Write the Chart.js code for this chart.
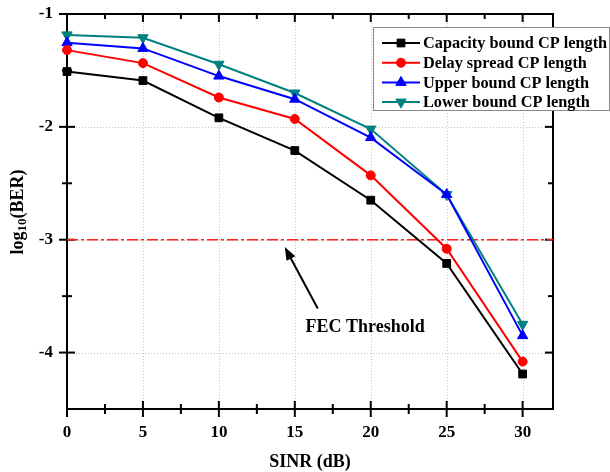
<!DOCTYPE html>
<html>
<head>
<meta charset="utf-8">
<script src="https://cdn.jsdelivr.net/npm/chart.js@4.4.1/dist/chart.umd.min.js"></script>
<style>
  html, body { margin: 0; padding: 0; background: #fff; }
  canvas { display: block; }
</style>
</head>
<body>
<canvas id="c" width="610" height="472"></canvas>
<script>
// SINR sweep (dB) and log10(BER) for each cyclic-prefix length choice
const sinr = [0, 5, 10, 15, 20, 25, 30];
const capacityBound = [-1.51, -1.59, -1.92, -2.21, -2.65, -3.21, -4.19];
const delaySpread   = [-1.32, -1.435, -1.74, -1.93, -2.43, -3.08, -4.08];
const upperBound    = [-1.255, -1.305, -1.55, -1.755, -2.095, -2.60, -3.85];
const lowerBound    = [-1.185, -1.21, -1.445, -1.70, -2.02, -2.60, -3.75];
const fecThreshold = -3;

const seriesNames = [
  'Capacity bound CP length',
  'Delay spread CP length',
  'Upper bound CP length',
  'Lower bound CP length'
];
const xTicks = [0, 5, 10, 15, 20, 25, 30];
const yTicks = [-4, -3, -2, -1];
const xMinor = [2.5, 7.5, 12.5, 17.5, 22.5, 27.5];
const yMinor = [-3.5, -2.5, -1.5];

const FONT = 'Liberation Serif, Times New Roman, serif';

const seriesStyle = [
  { color: '#000000', pointStyle: 'rect', radius: 5.5, rotation: 0 },
  { color: '#ff0000', pointStyle: 'circle', radius: 4.5, rotation: 0 },
  { color: '#0000ff', pointStyle: 'triangle', radius: 6, rotation: 0 },
  { color: '#008080', pointStyle: 'triangle', radius: 6, rotation: 180 }
];
const seriesValues = [capacityBound, delaySpread, upperBound, lowerBound];

const datasets = seriesValues.map((vals, i) => ({
  label: seriesNames[i],
  data: sinr.map((s, k) => ({ x: s, y: vals[k] })),
  borderColor: seriesStyle[i].color,
  backgroundColor: seriesStyle[i].color,
  borderWidth: 2,
  pointStyle: seriesStyle[i].pointStyle,
  pointRadius: seriesStyle[i].radius,
  pointRotation: seriesStyle[i].rotation,
  pointBorderWidth: 1,
  tension: 0,
  clip: false,
  order: i
}));

datasets.push({
  label: 'FEC Threshold',
  data: [{ x: 0, y: fecThreshold }, { x: 32, y: fecThreshold }],
  borderColor: '#ff2020',
  borderWidth: 1.5,
  borderDash: [11, 3, 3, 3],
  pointRadius: 0,
  order: 10
});

function seg(ctx, x1, y1, x2, y2) {
  ctx.beginPath(); ctx.moveTo(x1, y1); ctx.lineTo(x2, y2); ctx.stroke();
}

const framePlugin = {
  id: 'frame',
  beforeDatasetsDraw(chart) {
    const { ctx, chartArea: a, scales: { x, y } } = chart;
    ctx.save();
    // dotted grid at major ticks
    ctx.strokeStyle = '#c4c4c4';
    ctx.lineWidth = 1;
    ctx.setLineDash([1, 2]);
    xTicks.forEach(v => {
      if (v === 0) return;
      const px = Math.round(x.getPixelForValue(v)) + 0.5;
      seg(ctx, px, a.top, px, a.bottom);
    });
    yTicks.forEach(v => {
      if (v === -1) return;
      const py = Math.round(y.getPixelForValue(v)) + 0.5;
      seg(ctx, a.left, py, a.right, py);
    });
    ctx.setLineDash([]);

    // axis box
    ctx.strokeStyle = '#000';
    ctx.lineWidth = 2;
    ctx.strokeRect(a.left, a.top, a.right - a.left, a.bottom - a.top);

    // tick marks: crossing on bottom/left, inward on top/right
    const major = 8, minor = 5;
    xTicks.forEach(v => {
      const px = x.getPixelForValue(v);
      seg(ctx, px, a.bottom - major, px, a.bottom + major);
      seg(ctx, px, a.top, px, a.top + major);
    });
    xMinor.forEach(v => {
      const px = x.getPixelForValue(v);
      seg(ctx, px, a.bottom - minor, px, a.bottom + minor);
      seg(ctx, px, a.top, px, a.top + minor);
    });
    yTicks.forEach(v => {
      const py = y.getPixelForValue(v);
      seg(ctx, a.left - major, py, a.left + major, py);
      seg(ctx, a.right - major, py, a.right, py);
    });
    yMinor.forEach(v => {
      const py = y.getPixelForValue(v);
      seg(ctx, a.left - minor, py, a.left + minor, py);
      seg(ctx, a.right - minor, py, a.right, py);
    });
    ctx.restore();
  },
  afterDraw(chart) {
    const { ctx, chartArea: a, scales: { x, y } } = chart;
    ctx.save();
    ctx.fillStyle = '#000';

    // x-axis title
    ctx.font = 'bold 18px ' + FONT;
    ctx.textAlign = 'center';
    ctx.textBaseline = 'middle';
    ctx.fillText('SINR (dB)', (a.left + a.right) / 2, 462);

    // y-axis title with subscript
    ctx.save();
    ctx.translate(18, 212);
    ctx.rotate(-Math.PI / 2);
    ctx.textAlign = 'left';
    ctx.textBaseline = 'middle';
    const big = 'bold 18px ' + FONT, small = 'bold 13px ' + FONT;
    ctx.font = big; const w1 = ctx.measureText('log').width; const w3 = ctx.measureText('(BER)').width;
    ctx.font = small; const w2 = ctx.measureText('10').width;
    let sx = -(w1 + w2 + w3) / 2;
    ctx.font = big; ctx.fillText('log', sx, 0); sx += w1;
    ctx.font = small; ctx.fillText('10', sx, 5); sx += w2;
    ctx.font = big; ctx.fillText('(BER)', sx, 0);
    ctx.restore();

    // FEC threshold annotation
    const tipX = x.getPixelForValue(14.34), tipY = y.getPixelForValue(-3.065);
    const tailX = x.getPixelForValue(16.51), tailY = y.getPixelForValue(-3.61);
    const ang = Math.atan2(tipY - tailY, tipX - tailX);
    const hl = 13, hw = 5;
    ctx.strokeStyle = '#000';
    ctx.lineWidth = 2;
    seg(ctx, tailX, tailY, tipX - Math.cos(ang) * (hl - 2), tipY - Math.sin(ang) * (hl - 2));
    ctx.beginPath();
    ctx.moveTo(tipX, tipY);
    ctx.lineTo(tipX - Math.cos(ang) * hl - Math.sin(ang) * hw, tipY - Math.sin(ang) * hl + Math.cos(ang) * hw);
    ctx.lineTo(tipX - Math.cos(ang) * hl + Math.sin(ang) * hw, tipY - Math.sin(ang) * hl - Math.cos(ang) * hw);
    ctx.closePath();
    ctx.fill();

    ctx.font = 'bold 18px ' + FONT;
    ctx.textAlign = 'center';
    ctx.textBaseline = 'middle';
    ctx.fillText('FEC Threshold', x.getPixelForValue(19.63), y.getPixelForValue(-3.78));

    // legend box
    const bx = 373.5, by = 27.5, bw = 236, bh = 83;
    ctx.fillStyle = '#fff';
    ctx.fillRect(bx, by, bw, bh);
    ctx.strokeStyle = '#8a8a8a';
    ctx.lineWidth = 1;
    ctx.strokeRect(bx, by, bw, bh);
    ctx.font = 'bold 16.3px ' + FONT;
    ctx.textAlign = 'left';
    ctx.textBaseline = 'middle';
    seriesNames.forEach((name, i) => {
      const ry = 43 + i * 19.7;
      const st = seriesStyle[i];
      ctx.strokeStyle = st.color;
      ctx.fillStyle = st.color;
      ctx.lineWidth = 2;
      seg(ctx, 382, ry, 420, ry);
      ctx.lineWidth = 1;
      Chart.helpers.drawPoint(ctx, {
        pointStyle: st.pointStyle, rotation: st.rotation, radius: st.radius, borderWidth: 1
      }, 401, ry);
      ctx.fillStyle = '#000';
      ctx.fillText(name, 423, ry + 1);
    });
    ctx.restore();
  }
};

const tickFont = { family: FONT, weight: 'bold', size: 17 };

new Chart(document.getElementById('c'), {
  type: 'line',
  data: { datasets },
  options: {
    responsive: false,
    animation: false,
    devicePixelRatio: 1,
    layout: { padding: { top: 14, right: 57, bottom: 0, left: 0 } },
    plugins: { legend: { display: false }, tooltip: { enabled: false } },
    scales: {
      x: {
        type: 'linear',
        min: 0, max: 32,
        afterBuildTicks: s => { s.ticks = xTicks.map(v => ({ value: v })); },
        afterFit: s => { s.height = 63; s.paddingLeft = 0; s.paddingRight = 0; },
        grid: { display: false, drawTicks: false, tickLength: 0 },
        border: { display: false },
        ticks: { font: tickFont, color: '#000', padding: 13, maxRotation: 0 }
      },
      y: {
        type: 'linear',
        min: -4.5, max: -1,
        afterBuildTicks: s => { s.ticks = yTicks.map(v => ({ value: v })); },
        afterFit: s => { s.width = 67; s.paddingTop = 0; s.paddingBottom = 0; },
        grid: { display: false, drawTicks: false, tickLength: 0 },
        border: { display: false },
        ticks: { font: tickFont, color: '#000', padding: 14 }
      }
    }
  },
  plugins: [framePlugin]
});
</script>
</body>
</html>
